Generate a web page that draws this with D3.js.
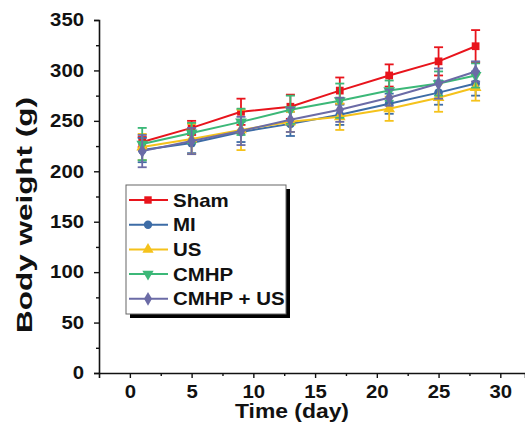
<!DOCTYPE html>
<html><head><meta charset="utf-8">
<script src="https://cdn.jsdelivr.net/npm/d3@7"></script>
<style>body{margin:0;background:#fff}svg{display:block}text{font-family:Arial,"Liberation Sans",sans-serif;font-weight:bold}</style>
</head><body><svg id="c" width="525" height="438"></svg>
<script>
const days = [1, 5, 9, 13, 17, 21, 25, 28];
const seriesNames = ["Sham", "MI", "US", "CMHP", "CMHP + US"];
const shamVals = [229, 243, 259, 264, 280, 295, 309, 324];
const shamErr = [5, 7, 13, 12, 13, 11, 14, 16];
const miVals = [221, 228, 239, 247, 256, 267, 278, 287];
const miErr = [12, 10, 10, 12, 10, 10, 12, 12];
const usVals = [224, 232, 241, 249, 254, 262, 273, 283];
const usErr = [13, 15, 20, 10, 13, 12, 14, 13];
const cmhpVals = [227, 238, 249, 261, 270, 280, 287, 295];
const cmhpErr = [16, 10, 13, 14, 17, 10, 12, 12];
const cmhpUsVals = [220, 230, 240, 251, 261, 273, 287, 299];
const cmhpUsErr = [16, 13, 14, 12, 12, 8, 15, 10];
const colors = ["#e8141c", "#3d6ca6", "#f5c21b", "#3cb878", "#6b6ba6"];
const markers = ["square", "circle", "triangle", "down", "diamond"];
const yTicks = [0, 50, 100, 150, 200, 250, 300, 350];
const xTicks = [0, 5, 10, 15, 20, 25, 30];

const allVals = [shamVals, miVals, usVals, cmhpVals, cmhpUsVals];
const allErr = [shamErr, miErr, usErr, cmhpErr, cmhpUsErr];

const svg = d3.select("#c");
const x = d3.scaleLinear().domain([-2.5, 32]).range([99, 525]);
const y = d3.scaleLinear().domain([0, 350]).range([373, 20]);
const SX = 1.13;

function symbolFor(m, size) {
  let type;
  if (m === "square") type = d3.symbolSquare;
  else if (m === "circle") type = d3.symbolCircle;
  else if (m === "triangle" || m === "down") type = d3.symbolTriangle;
  else type = d3.symbolDiamond;
  return d3.symbol().type(type).size(size)();
}

// axes
const yAxis = d3.axisLeft(y).tickValues(yTicks).tickSize(5);
const gy = svg.append("g").attr("transform", "translate(99,0)").call(yAxis);
const yMinor = d3.axisLeft(y).tickValues(d3.range(25, 350, 50)).tickSize(3).tickFormat("");
svg.append("g").attr("transform", "translate(99,0)").call(yMinor).select(".domain").remove();
const xAxis = d3.axisBottom(x).tickValues(xTicks).tickSize(5).tickPadding(7);
const gx = svg.append("g").attr("transform", "translate(0,373)").call(xAxis);
const xMinor = d3.axisBottom(x).tickValues(d3.range(2.5, 32, 5)).tickSize(3).tickFormat("");
svg.append("g").attr("transform", "translate(0,373)").call(xMinor).select(".domain").remove();
svg.selectAll(".domain").attr("stroke", "#111").attr("stroke-width", 1.6);
svg.selectAll(".tick line").attr("stroke", "#111").attr("stroke-width", 1.4);
gy.selectAll("text").attr("font-size", 18).attr("fill", "#111")
  .attr("x", -15 / SX).attr("transform", `scale(${SX},1)`);
gx.selectAll("text").attr("font-size", 18).attr("fill", "#111")
  .attr("transform", `scale(${SX},1)`);

svg.append("text").attr("transform", "translate(32,215) rotate(-90)")
  .attr("text-anchor", "middle").attr("font-size", 22).attr("fill", "#111")
  .attr("textLength", 236).attr("lengthAdjust", "spacingAndGlyphs").text("Body weight (g)");
svg.append("text").attr("x", 292).attr("y", 418)
  .attr("text-anchor", "middle").attr("font-size", 20).attr("fill", "#111")
  .attr("textLength", 114).attr("lengthAdjust", "spacingAndGlyphs").text("Time (day)");

const line = d3.line().x(d => x(d[0])).y(d => y(d[1]));

// draw series
allVals.forEach((vals, si) => {
  const g = svg.append("g");
  const col = colors[si];
  const pts = days.map((d, i) => [d, vals[i], allErr[si][i]]);
  pts.forEach(p => {
    const cx = x(p[0]);
    g.append("line").attr("x1", cx).attr("x2", cx).attr("y1", y(p[1] - p[2])).attr("y2", y(p[1] + p[2]))
      .attr("stroke", col).attr("stroke-width", 1.8);
    [p[1] - p[2], p[1] + p[2]].forEach(v => {
      g.append("line").attr("x1", cx - 4.5).attr("x2", cx + 4.5).attr("y1", y(v)).attr("y2", y(v))
        .attr("stroke", col).attr("stroke-width", 1.8);
    });
  });
  g.append("path").datum(pts).attr("d", line).attr("fill", "none").attr("stroke", col).attr("stroke-width", 2);
  pts.forEach(p => {
    g.append("path").attr("d", symbolFor(markers[si], 60))
      .attr("transform", `translate(${x(p[0])},${y(p[1])})` + (markers[si] === "down" ? " rotate(180)" : ""))
      .attr("fill", col);
  });
});

// legend
const lg = svg.append("g");
lg.append("rect").attr("x", 130).attr("y", 189).attr("width", 160).attr("height", 129).attr("fill", "#000");
lg.append("rect").attr("x", 126).attr("y", 185).attr("width", 160).attr("height", 129).attr("fill", "#fff").attr("stroke", "#666").attr("stroke-width", 1);
seriesNames.forEach((n, i) => {
  const ly = 200 + i * 24.7;
  lg.append("line").attr("x1", 129).attr("x2", 168).attr("y1", ly).attr("y2", ly).attr("stroke", colors[i]).attr("stroke-width", 2);
  lg.append("path").attr("d", symbolFor(markers[i], 55))
    .attr("transform", `translate(148,${ly})` + (markers[i] === "down" ? " rotate(180)" : "")).attr("fill", colors[i]);
  lg.append("text").attr("transform", `translate(173,${ly + 6.5}) scale(1.17,1)`)
    .attr("font-size", 17.5).attr("fill", "#111").text(n);
});
</script></body></html>
